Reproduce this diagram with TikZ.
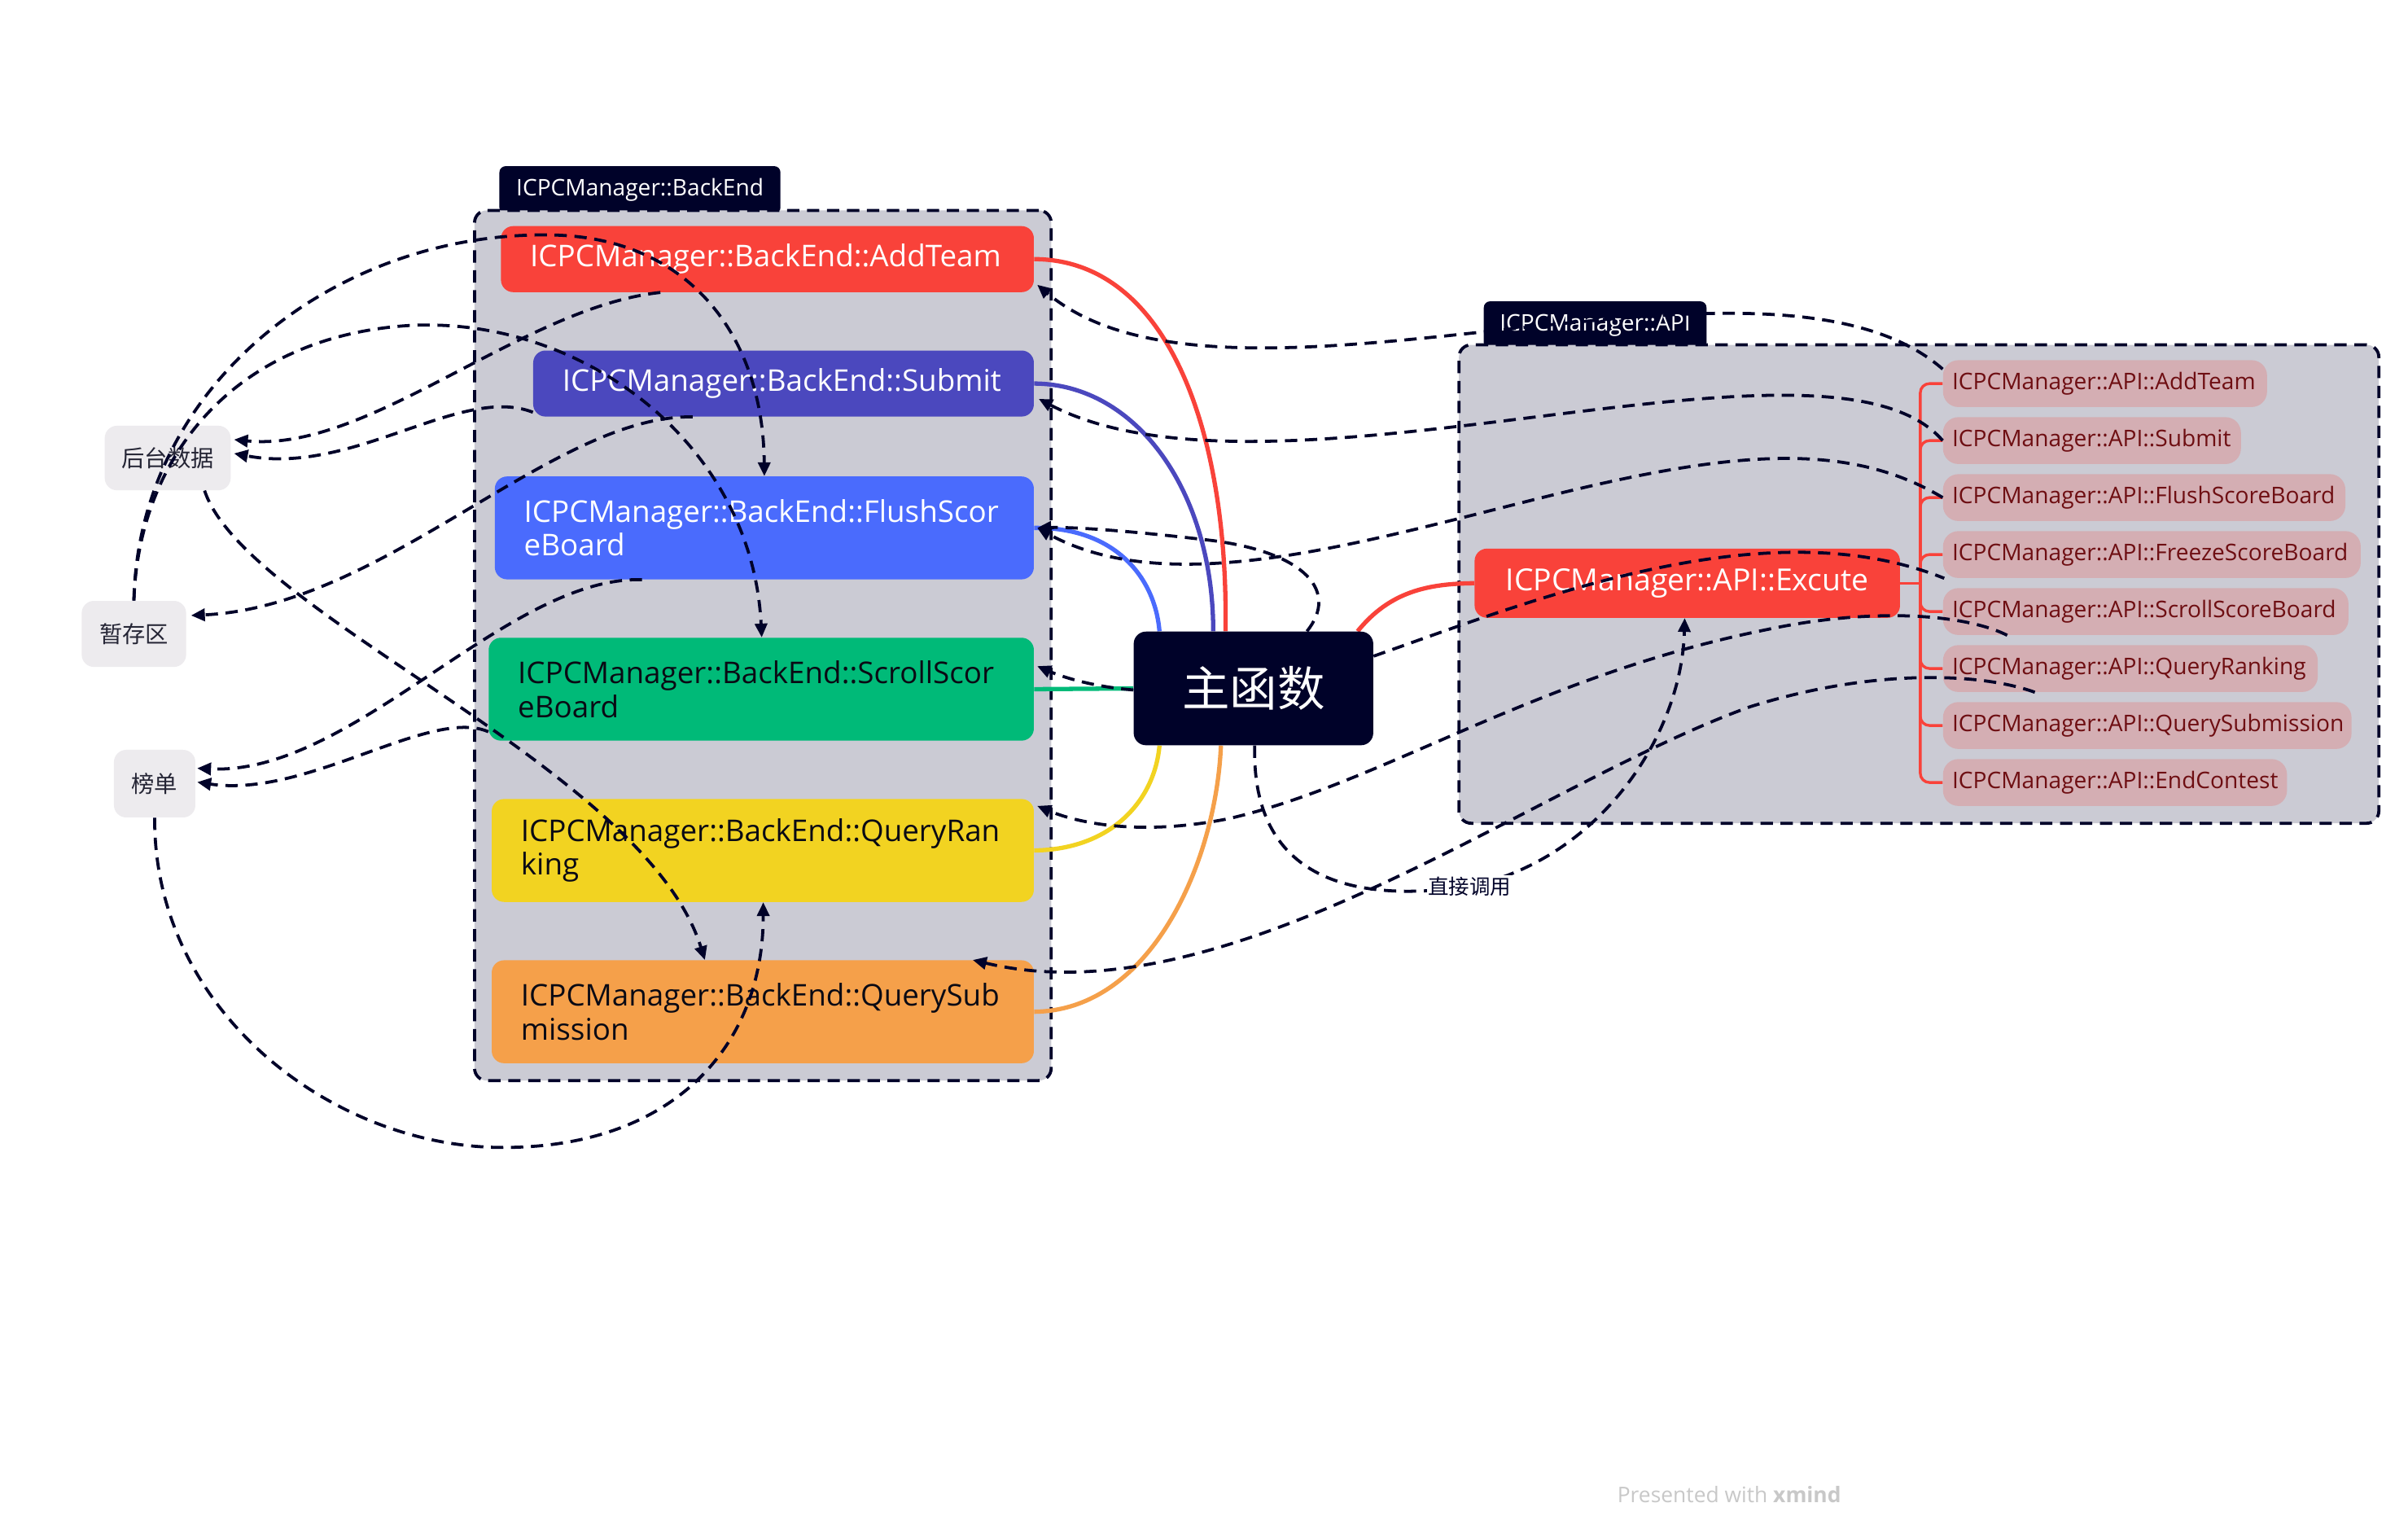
\documentclass[tikz,border=0pt]{standalone}
\usepackage{fontspec}
\setmainfont{Open Sans}
\newfontfamily\cjk{Noto Sans CJK SC}
\usetikzlibrary{calc,arrows.meta}
\pgfdeclarelayer{back}
\pgfdeclarelayer{mid}
\pgfdeclarelayer{front}
\pgfsetlayers{back,mid,main,front}

\definecolor{navy}{HTML}{000229}
\definecolor{cont}{HTML}{CBCBD4}
\definecolor{cred}{HTML}{F9423A}
\definecolor{cindigo}{HTML}{4B48BE}
\definecolor{cblue}{HTML}{4A6BFD}
\definecolor{cgreen}{HTML}{00BA78}
\definecolor{cyellow}{HTML}{F2D321}
\definecolor{corange}{HTML}{F5A04A}
\definecolor{cpink}{HTML}{D4AEB3}
\definecolor{cmaroon}{HTML}{6E0E12}
\definecolor{cleft}{HTML}{EDEBEE}
\definecolor{cleftt}{HTML}{252535}
\definecolor{cdark}{HTML}{0A0A14}
\definecolor{cgraytxt}{HTML}{C8C8C8}

\begin{document}
\begin{tikzpicture}[x=1pt,y=-1pt,
  benode/.style={rounded corners=8pt, anchor=north west, inner xsep=19pt, inner ysep=0pt, align=left, font=\fontsize{19.5}{22}\selectfont},
  apinode/.style={rounded corners=10pt, anchor=north west, fill=cpink, text=cmaroon, inner xsep=6pt, inner ysep=0pt, minimum height=30.5pt, align=left, font=\fontsize{14.9}{17}\selectfont},
  leftnode/.style={rounded corners=8pt, anchor=north west, fill=cleft, text=cleftt, inner sep=0pt, font=\cjk\fontsize{15}{18}\selectfont},
  tag/.style={rounded corners=4pt, anchor=north west, fill=navy, text=white, inner sep=0pt, minimum height=31pt, font=\fontsize{14.9}{17}\selectfont},
  frame/.style={rounded corners=8pt, anchor=north west, fill=cont, draw=navy, line width=2pt, dash pattern=on 8pt off 5pt},
  rel/.style={draw=navy, line width=2pt, dash pattern=on 8pt off 5pt},
  relarrow/.style={rel, -{Triangle[length=9pt,width=8pt]}},
  branch/.style={line width=2.8pt},
  bracket/.style={draw=cred, line width=1.8pt, rounded corners=6pt},
]
\begin{pgfonlayer}{back}
\fill[white] (0,0) rectangle (1568,1001);
\end{pgfonlayer}
\useasboundingbox (0,0) rectangle (1568,1001);

% ---------- containers ----------
\begin{pgfonlayer}{back}
\node[tag, minimum width=183pt] (bel) at (325,108) {ICPCManager::BackEnd};
\node[frame, minimum width=375.5pt, minimum height=566.5pt] (befr) at (308,136) {};
\node[tag, minimum width=145pt] (apl) at (966,196) {ICPCManager::API};
\node[frame, minimum width=599pt, minimum height=311.5pt] (apifr) at (949,223.5) {};
\end{pgfonlayer}

% ---------- BackEnd nodes ----------
\node[benode, fill=cred, text=white, minimum height=43pt, text width=309pt] (be1) at (326,147) {ICPCManager::BackEnd::AddTeam};
\node[benode, fill=cindigo, text=white, minimum height=43pt, text width=288pt] (be2) at (347,228) {ICPCManager::BackEnd::Submit};
\node[benode, fill=cblue, text=white, minimum height=67pt, text width=313pt] (be3) at (322,310) {ICPCManager::BackEnd::FlushScor\\eBoard};
\node[benode, fill=cgreen, text=cdark, minimum height=67pt, text width=317pt] (be4) at (318,415) {ICPCManager::BackEnd::ScrollScor\\eBoard};
\node[benode, fill=cyellow, text=cdark, minimum height=67pt, text width=315pt] (be5) at (320,520) {ICPCManager::BackEnd::QueryRan\\king};
\node[benode, fill=corange, text=cdark, minimum height=67pt, text width=315pt] (be6) at (320,625) {ICPCManager::BackEnd::QuerySub\\mission};

% ---------- left nodes ----------
\node[leftnode, minimum width=82pt, minimum height=42pt] (hb) at (68,277) {后台数据};
\node[leftnode, minimum width=68pt, minimum height=43pt] (zc) at (53,391) {暂存区};
\node[leftnode, minimum width=53pt, minimum height=44pt] (bd) at (74,488) {榜单};

% ---------- main ----------
\node[fill=navy, text=white, rounded corners=8pt, anchor=north west, minimum width=156pt, minimum height=74pt, inner sep=0pt, font=\cjk\fontsize{31}{36}\selectfont] (main) at (738,411) {主函数};

% ---------- API ----------
\node[fill=cred, text=white, rounded corners=8pt, anchor=north west, minimum width=277pt, minimum height=45pt, inner sep=0pt, font=\fontsize{19.8}{22}\selectfont] (ex) at (960,357) {ICPCManager::API::Excute};
\node[apinode, text width=199pt] (aa1) at (1265,234.3) {ICPCManager::API::AddTeam};
\node[apinode, text width=182pt] (aa2) at (1265,271.4) {ICPCManager::API::Submit};
\node[apinode, text width=250pt] (aa3) at (1265,308.5) {ICPCManager::API::FlushScoreBoard};
\node[apinode, text width=260pt] (aa4) at (1265,345.6) {ICPCManager::API::FreezeScoreBoard};
\node[apinode, text width=252pt] (aa5) at (1265,382.7) {ICPCManager::API::ScrollScoreBoard};
\node[apinode, text width=232pt] (aa6) at (1265,419.8) {ICPCManager::API::QueryRanking};
\node[apinode, text width=254pt] (aa7) at (1265,456.9) {ICPCManager::API::QuerySubmission};
\node[apinode, text width=212pt] (aa8) at (1265,494.0) {ICPCManager::API::EndContest};

% ---------- branches ----------
\begin{pgfonlayer}{mid}
\draw[branch, cred] (be1.east) .. controls (760,169) and (800,280) .. ($(main.north west)+(60,0)$);
\draw[branch, cindigo] (be2.east) .. controls (740,250) and (790,320) .. ($(main.north west)+(52,0)$);
\draw[branch, cblue] (be3.east) .. controls (725,343) and (752,375) .. ($(main.north west)+(17,0)$);
\draw[branch, cgreen] (be4.east) -- (main.west);
\draw[branch, cyellow] (be5.east) .. controls (725,553) and (752,520) .. ($(main.south west)+(17,0)$);
\draw[branch, corange] (be6.east) .. controls (750,658) and (792,560) .. ($(main.south west)+(57,0)$);
\draw[branch, cred] ($(main.north west)+(146,0)$) .. controls (905,385) and (930,380) .. (ex.west);
\draw[bracket] (ex.east) -- ++(13,0);
\foreach \k in {1,...,8}{
  \draw[bracket] ($(ex.east)+(13,0)$) |- (aa\k.west);
}
\end{pgfonlayer}

% ---------- relationships (right) ----------
\draw[relarrow] ($(aa1.north west)+(0,6)$) .. controls (1150,140) and (800,290) .. ($(be1.south east)+(2,-5)$);
\draw[relarrow] (aa2.west) .. controls (1190,200) and (830,340) .. ($(be2.east)+(3,10)$);
\draw[relarrow] (aa3.west) .. controls (1200,285) and (1120,295) .. (1000,325) .. controls (880,355) and (760,390) .. ($(be3.east)+(2,0)$);
\draw[relarrow] ($(main.north west)+(113,0)$) .. controls (872,385) and (850,360) .. (790,352) .. controls (740,346) and (700,343) .. ($(be3.east)+(2,0)$);
\draw[relarrow] ($(main.west)+(0,1)$) .. controls (710,447) and (690,440) .. ($(be4.east)+(2,-15)$);
\draw[rel] ($(main.east)+(0,-21)$) .. controls (1000,390) and (1150,330) .. ($(aa4.south west)+(1,0)$);
\draw[relarrow] ($(aa5.south west)+(42,0)$) .. controls (1280,400) and (1220,395) .. (1150,410) .. controls (1000,440) and (900,510) .. (800,533) .. controls (740,545) and (700,535) .. ($(be5.east)+(2,-29)$);
\draw[relarrow] ($(aa6.south west)+(60,0)$) .. controls (1290,438) and (1220,435) .. (1140,460) .. controls (1000,510) and (800,665) .. ($(be6.north east)+(-40,0)$);
\draw[relarrow] ($(main.south west)+(79,0)$) .. controls (815,565) and (870,590) .. (957,577) .. controls (1040,560) and (1095,480) .. ($(ex.south west)+(137,0)$);

% ---------- relationships (left) ----------
\draw[relarrow] (zc.north) .. controls (90,250) and (220,150) .. (360,153) .. controls (450,155) and (497,220) .. (be3.north);
\draw[relarrow] (zc.north) .. controls (90,300) and (150,220) .. (265,212) .. controls (380,205) and (490,290) .. ($(be4.north west)+(178,0)$);
\draw[relarrow] ($(be1.south west)+(104,0)$) .. controls (340,200) and (240,295) .. ($(hb.east)+(2,-12)$);
\draw[relarrow] ($(be2.south west)+(0,-3)$) .. controls (300,250) and (230,310) .. ($(hb.east)+(2,-3)$);
\draw[relarrow] ($(be2.south west)+(104,0)$) .. controls (360,270) and (250,395) .. ($(zc.east)+(3,-12)$);
\draw[relarrow] ($(be3.south west)+(96,0)$) .. controls (330,375) and (230,505) .. ($(bd.east)+(1,-10)$);
\draw[relarrow] ($(be4.south west)+(0,-6)$) .. controls (280,460) and (200,520) .. ($(bd.east)+(1,-1)$);
\draw[relarrow] ($(hb.south)+(24,0)$) .. controls (160,400) and (420,500) .. ($(be6.north west)+(139,0)$);
\draw[relarrow] (bd.south) .. controls (100,660) and (220,750) .. (333,747) .. controls (440,745) and (497,680) .. ($(be5.south west)+(177,0)$);

% ---------- labels ----------
\node[fill=white, inner sep=1pt, text=navy, font=\cjk\fontsize{13.5}{16}\selectfont] (zj) at (957,577) {直接调用};
\node[text=cgraytxt, inner sep=0pt, font=\fontsize{14}{16}\selectfont] (pw) at (1126,973) {Presented with \textbf{xmind}};
\end{tikzpicture}
\end{document}
